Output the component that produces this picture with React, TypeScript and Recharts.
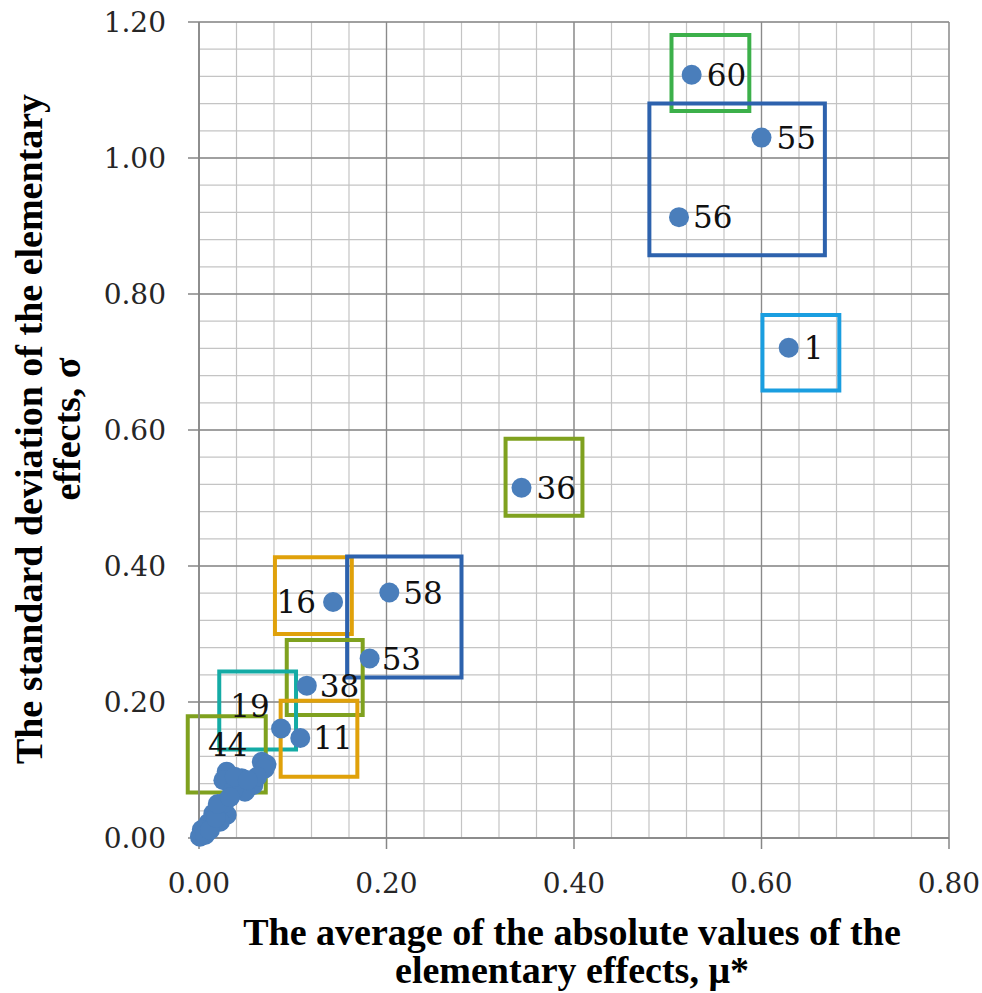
import {
  ScatterChart,
  Scatter,
  XAxis,
  YAxis,
  CartesianGrid,
  ReferenceArea,
  Label,
} from 'recharts';

// parameter id shown next to the point ('' = unlabeled)
const pointIds = [
  '60', '55', '56', '1', '36', '58', '16', '53', '38', '11', '19', '44',
  '', '', '', '', '', '', '', '', '', '', '', '', '', '', '', '', '', '', '', '', '',
  '', '', '',
];
// mu* (x)
const muStar = [
  0.5255, 0.600, 0.512, 0.629, 0.344, 0.203, 0.143, 0.182, 0.115, 0.108, 0.0875, 0.067,
  0.072, 0.070, 0.0295, 0.026, 0.0455, 0.058, 0.049, 0.0366, 0.062, 0.024, 0.0153,
  0.0295, 0.0224, 0.010, 0.003, 0.001, 0.0064, 0.0117, 0.018, 0.027, 0.020,
  0.038, 0.052, 0.033,
];
// sigma (y)
const sigma = [
  1.1225, 1.030, 0.913, 0.721, 0.515, 0.361, 0.347, 0.264, 0.224, 0.147, 0.161, 0.112,
  0.108, 0.102, 0.0975, 0.085, 0.088, 0.078, 0.068, 0.0706, 0.090, 0.044, 0.036,
  0.034, 0.024, 0.022, 0.012, 0.002, 0.0044, 0.0118, 0.030, 0.052, 0.050,
  0.090, 0.085, 0.060,
];

const xTicks = [0, 0.2, 0.4, 0.6, 0.8];
const yTicks = [0, 0.2, 0.4, 0.6, 0.8, 1.0, 1.2];
const xMinor = [0, 0.04, 0.08, 0.12, 0.16, 0.2, 0.24, 0.28, 0.32, 0.36, 0.4, 0.44, 0.48, 0.52, 0.56, 0.6, 0.64, 0.68, 0.72, 0.76, 0.8];
const yMinor = [
  0, 0.04, 0.08, 0.12, 0.16, 0.2, 0.24, 0.28, 0.32, 0.36, 0.4, 0.44, 0.48, 0.52, 0.56, 0.6,
  0.64, 0.68, 0.72, 0.76, 0.8, 0.84, 0.88, 0.92, 0.96, 1.0, 1.04, 1.08, 1.12, 1.16, 1.2,
];

// highlight boxes (data units)
const boxNames = ['60', '55-56', '1', '36', '16', '58-53', '38', '19', '11', '44'];
const boxX1 = [0.504, 0.4804, 0.601, 0.327, 0.081, 0.158, 0.0936, 0.0216, 0.0871, -0.012];
const boxX2 = [0.587, 0.6676, 0.683, 0.409, 0.163, 0.280, 0.1746, 0.1035, 0.1689, 0.0712];
const boxY1 = [1.069, 0.857, 0.658, 0.474, 0.300, 0.236, 0.181, 0.130, 0.090, 0.067];
const boxY2 = [1.181, 1.080, 0.769, 0.587, 0.413, 0.414, 0.291, 0.245, 0.202, 0.179];

const BOX_COLORS: Record<string, string> = {
  '60': '#3cb04a',
  '55-56': '#2d62ad',
  '1': '#1a9ee0',
  '36': '#7fa11f',
  '16': '#e0a10a',
  '58-53': '#2d62ad',
  '38': '#7fa11f',
  '19': '#14aba5',
  '11': '#e0a10a',
  '44': '#7fa11f',
};

// where each point label sits relative to its dot
const LABEL_OFFSETS: Record<string, { dx: number; dy: number; anchor: 'start' | 'end' | 'middle' }> = {
  '16': { dx: -17, dy: 0, anchor: 'end' },
  '19': { dx: -31, dy: -23, anchor: 'middle' },
  '44': { dx: -34, dy: -17, anchor: 'middle' },
  '53': { dx: 12, dy: 0, anchor: 'start' },
  '38': { dx: 13, dy: 0, anchor: 'start' },
  '11': { dx: 13, dy: 0, anchor: 'start' },
  '58': { dx: 14, dy: 0, anchor: 'start' },
  '56': { dx: 14, dy: 0, anchor: 'start' },
};

const data = muStar.map((x, i) => ({ x, y: sigma[i], id: pointIds[i] }));
const boxes = boxNames.map((name, i) => ({ name, x1: boxX1[i], x2: boxX2[i], y1: boxY1[i], y2: boxY2[i] }));

const TICK_FONT = '"DejaVu Serif", serif';
const TITLE_FONT = '"Liberation Serif", "Times New Roman", serif';

const PointShape = (props: any) => {
  const { cx, cy, payload } = props;
  const id = payload?.id;
  const off = id ? LABEL_OFFSETS[id] || { dx: 15, dy: 0, anchor: 'start' } : null;
  return (
    <g>
      <circle cx={cx} cy={cy} r={10} fill="#4a7ebb" />
      {off && (
        <text
          x={cx + off.dx}
          y={cy + off.dy}
          dy="0.36em"
          textAnchor={off.anchor}
          fontFamily={TICK_FONT}
          fontSize={31}
          fill="#111"
        >
          {id}
        </text>
      )}
    </g>
  );
};

const XTitle = (props: any) => {
  const vb = props.viewBox;
  const cx = vb.x + vb.width / 2 - 2;
  return (
    <text textAnchor="middle" fontFamily={TITLE_FONT} fontWeight="bold" fontSize={38} fill="#000">
      <tspan x={cx} y={vb.y + 107}>The average of the absolute values of the</tspan>
      <tspan x={cx} y={vb.y + 145}>elementary effects, μ*</tspan>
    </text>
  );
};

const YTitle = (props: any) => {
  const vb = props.viewBox;
  const cy = vb.y + vb.height / 2 - 1;
  return (
    <text transform="rotate(-90)" textAnchor="middle" fontFamily={TITLE_FONT} fontWeight="bold" fontSize={38} fill="#000">
      <tspan x={-cy} y={42}>The standard deviation of the elementary</tspan>
      <tspan x={-cy} y={80}>effects, σ</tspan>
    </text>
  );
};

export default function App() {
  return (
    <div style={{ position: 'absolute', left: 0, top: 0, width: 982, height: 993, background: '#fff' }}>
      <ScatterChart width={982} height={993} margin={{ top: 22, right: 33, bottom: 0, left: 0 }}>
        <CartesianGrid horizontalValues={yMinor} verticalValues={xMinor} stroke="#c4c4c4" strokeWidth={1.2} />
        <CartesianGrid horizontalValues={yTicks} verticalValues={xTicks} stroke="#8a8a8a" strokeWidth={1.3} />
        <XAxis
          type="number"
          dataKey="x"
          domain={[0, 0.8]}
          ticks={xTicks}
          interval={0}
          height={155}
          tickFormatter={(v: number) => v.toFixed(2)}
          tick={{ fontFamily: TICK_FONT, fontSize: 28, fill: '#262626' }}
          stroke="#868686"
          strokeWidth={1.5}
          tickSize={11}
          tickMargin={24}
        >
          <Label content={<XTitle />} />
        </XAxis>
        <YAxis
          type="number"
          dataKey="y"
          domain={[0, 1.2]}
          ticks={yTicks}
          interval={0}
          width={199}
          tickFormatter={(v: number) => v.toFixed(2)}
          tick={{ fontFamily: TICK_FONT, fontSize: 28, fill: '#262626' }}
          stroke="#868686"
          strokeWidth={1.5}
          tickSize={11}
          tickMargin={22}
        >
          <Label content={<YTitle />} />
        </YAxis>
        <Scatter data={data} shape={<PointShape />} isAnimationActive={false} />
        {boxes.map(b => (
          <ReferenceArea
            key={b.name}
            x1={b.x1}
            x2={b.x2}
            y1={b.y1}
            y2={b.y2}
            fill="none"
            fillOpacity={0}
            stroke={BOX_COLORS[b.name]}
            strokeWidth={4}
            ifOverflow="visible"
          />
        ))}
      </ScatterChart>
    </div>
  );
}
